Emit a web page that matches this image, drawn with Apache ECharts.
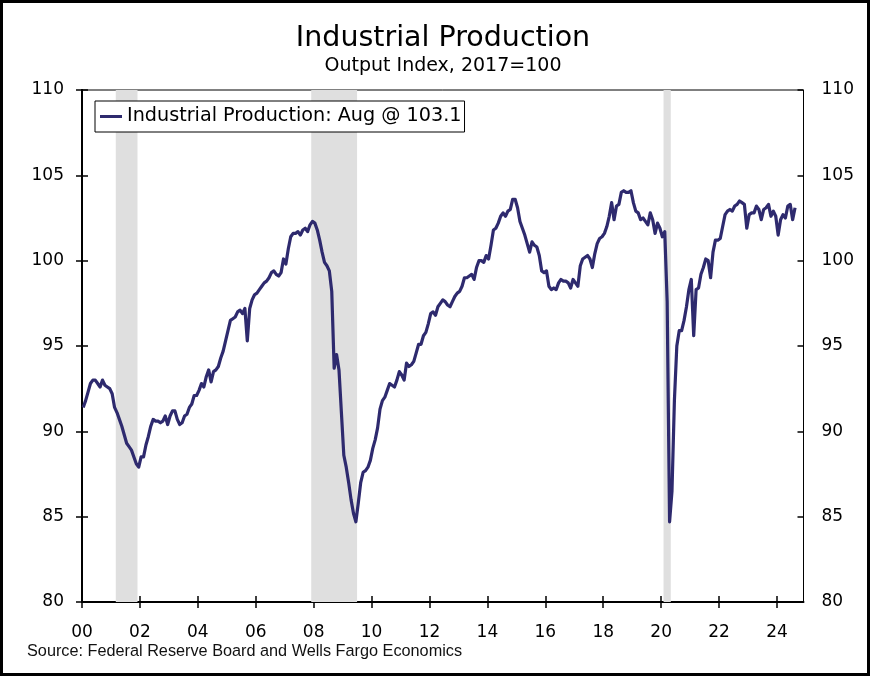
<!DOCTYPE html>
<html>
<head>
<meta charset="utf-8">
<script src="https://cdn.jsdelivr.net/npm/echarts@6/dist/echarts.min.js"></script>
<style>
html,body{margin:0;padding:0;background:#fff;}
#chart{width:870px;height:676px;}
</style>
</head>
<body>
<div id="chart"></div>
<script>
// ---- Data (monthly, Jan 2000 - Aug 2024, index 2017=100) ----
const startYear = 2000;
const industrialProduction = [
  91.4, 91.8, 92.3, 92.8, 93.0, 93.0, 92.8, 92.6, 93.0, 92.7, 92.6, 92.5,   // 2000
  92.2, 91.4, 91.1, 90.7, 90.3, 89.8, 89.3, 89.1, 88.9, 88.5, 88.1, 87.9,   // 2001
  88.5, 88.5, 89.2, 89.7, 90.3, 90.7, 90.6, 90.6, 90.5, 90.6, 90.9, 90.4,   // 2002
  90.9, 91.2, 91.2, 90.7, 90.4, 90.5, 90.9, 91.0, 91.4, 91.6, 92.1, 92.1,   // 2003
  92.4, 92.8, 92.6, 93.2, 93.6, 92.9, 93.5, 93.6, 93.8, 94.3, 94.7, 95.3,   // 2004
  95.9, 96.5, 96.6, 96.7, 97.0, 97.1, 96.9, 97.2, 95.3, 97.2, 97.7, 98.0,   // 2005
  98.1, 98.3, 98.5, 98.7, 98.8, 99.0, 99.3, 99.4, 99.2, 99.1, 99.3, 100.1,  // 2006
  99.8, 100.7, 101.4, 101.6, 101.6, 101.7, 101.5, 101.8, 101.9, 101.7, 102.1, 102.3, // 2007
  102.2, 101.8, 101.2, 100.5, 99.9, 99.7, 99.4, 98.2, 93.7, 94.5, 93.6, 91.1, // 2008
  88.6, 87.9, 87.0, 86.0, 85.2, 84.7, 85.8, 87.0, 87.6, 87.7, 87.9, 88.3,   // 2009
  89.0, 89.5, 90.2, 91.3, 91.8, 92.0, 92.4, 92.8, 92.7, 92.6, 93.0, 93.5,   // 2010
  93.3, 93.0, 94.0, 93.8, 93.9, 94.1, 94.6, 95.1, 95.1, 95.6, 95.8, 96.3,   // 2011
  96.9, 97.0, 96.8, 97.3, 97.5, 97.7, 97.6, 97.4, 97.3, 97.6, 97.9, 98.1,   // 2012
  98.2, 98.5, 99.0, 99.0, 99.1, 99.2, 98.9, 99.6, 100.0, 100.0, 99.9, 100.3, // 2013
  100.1, 100.9, 101.8, 101.9, 102.2, 102.6, 102.8, 102.6, 102.9, 103.0, 103.6, 103.6, // 2014
  103.1, 102.3, 101.9, 101.5, 101.0, 100.5, 101.1, 100.9, 100.8, 100.3, 99.4, 99.3, // 2015
  99.4, 98.5, 98.3, 98.4, 98.3, 98.7, 98.9, 98.8, 98.8, 98.7, 98.4, 98.9,   // 2016
  98.7, 98.5, 99.7, 100.1, 100.2, 100.3, 100.1, 99.6, 100.4, 101.0, 101.3, 101.4, // 2017
  101.6, 102.0, 102.6, 103.4, 102.4, 103.2, 103.3, 104.0, 104.1, 104.0, 104.0, 104.1, // 2018
  103.4, 102.9, 102.8, 102.4, 102.5, 102.3, 102.1, 102.8, 102.4, 101.6, 102.2, 101.9, // 2019
  101.4, 101.7, 97.6, 84.7, 86.5, 91.8, 95.0, 95.9, 95.9, 96.5, 97.3, 98.3,  // 2020
  98.9, 95.6, 98.3, 98.4, 99.2, 99.6, 100.1, 100.0, 99.0, 100.5, 101.2, 101.2, // 2021
  101.3, 102.0, 102.7, 102.9, 103.0, 102.9, 103.2, 103.3, 103.5, 103.4, 103.3, 101.9, // 2022
  102.7, 102.8, 102.8, 103.2, 103.0, 102.4, 103.0, 103.1, 103.3, 102.6, 102.9, 102.6, // 2023
  101.5, 102.4, 102.7, 102.5, 103.2, 103.3, 102.4, 103.1                      // 2024 (Jan-Aug)
];
const seriesName = 'Industrial Production: Aug @ 103.1';
const titleText = 'Industrial Production';
const subtitleText = 'Output Index, 2017=100';
const sourceText = 'Source: Federal Reserve Board and Wells Fargo Economics';
const xTickYears = [2000, 2002, 2004, 2006, 2008, 2010, 2012, 2014, 2016, 2018, 2020, 2022, 2024];
const xTickLabels = ['00', '02', '04', '06', '08', '10', '12', '14', '16', '18', '20', '22', '24'];
const yMin = 80, yMax = 110, yStep = 5;
const recessions = [['2001-03', '2001-11'], ['2007-12', '2009-06'], ['2020-02', '2020-04']];
const axisEndMonth = '2024-12';

// ---- Helpers ----
function monthIndex(s) {
  const [y, m] = s.split('-').map(Number);
  return (y - startYear) * 12 + (m - 1);
}
const tickPos = xTickYears.map(y => (y - startYear) * 12);
const lineData = industrialProduction.map((v, i) => [i + 0.5, v]);
const shadeData = recessions.map(r => [{ xAxis: monthIndex(r[0]) }, { xAxis: monthIndex(r[1]) + 1 }]);
const xMax = monthIndex(axisEndMonth);

const FONT = '"DejaVu Sans", Verdana, sans-serif';

const chart = echarts.init(document.getElementById('chart'), null, { renderer: 'canvas' });

const commonX = { type: 'value', min: 0, max: xMax, splitLine: { show: false } };
const commonY = { type: 'value', min: yMin, max: yMax, interval: yStep, splitLine: { show: false } };

chart.setOption({
  animation: false,
  backgroundColor: '#fff',
  legend: {
    data: [seriesName],
    left: 95, top: 101,
    icon: 'rect', itemWidth: 22, itemHeight: 3,
    padding: [6, 3, 6, 5],
    borderColor: '#000', borderWidth: 1, borderRadius: 0,
    backgroundColor: '#fff',
    textStyle: { fontFamily: FONT, fontSize: 19.2, color: '#000' },
    selectedMode: false
  },
  grid: { left: 82, right: 66.5, top: 90, bottom: 74, show: true, borderColor: '#000', borderWidth: 1, backgroundColor: 'transparent' },
  xAxis: [
    Object.assign({}, commonX, {
      position: 'bottom',
      axisLine: { show: true, lineStyle: { color: '#000', width: 2 } },
      axisTick: { show: true, inside: false, length: 6, customValues: tickPos, lineStyle: { color: '#000', width: 1.5 } },
      axisLabel: { show: true, customValues: tickPos, margin: 22, color: '#000', fontFamily: FONT, fontSize: 17,
        formatter: v => { const k = tickPos.indexOf(Math.round(v)); return k >= 0 ? xTickLabels[k] : ''; } }
    }),
    Object.assign({}, commonX, {
      position: 'bottom',
      axisLine: { show: false },
      axisTick: { show: true, inside: true, length: 6, customValues: tickPos, lineStyle: { color: '#000', width: 1.5 } },
      axisLabel: { show: false }
    })
  ],
  yAxis: [
    Object.assign({}, commonY, {
      position: 'left',
      axisLine: { show: true, lineStyle: { color: '#000', width: 2 } },
      axisTick: { show: true, inside: false, length: 6, lineStyle: { color: '#000', width: 1.5 } },
      axisLabel: { show: true, margin: 18, color: '#000', fontFamily: FONT, fontSize: 17 }
    }),
    Object.assign({}, commonY, {
      position: 'right',
      axisLine: { show: true, lineStyle: { color: '#000', width: 2 } },
      axisTick: { show: true, inside: false, length: 6, lineStyle: { color: '#000', width: 1.5 } },
      axisLabel: { show: true, margin: 18, color: '#000', fontFamily: FONT, fontSize: 17 }
    }),
    Object.assign({}, commonY, {
      position: 'left', offset: 0,
      axisLine: { show: false },
      axisTick: { show: true, inside: true, length: 6, lineStyle: { color: '#000', width: 1.5 } },
      axisLabel: { show: false }
    }),
    Object.assign({}, commonY, {
      position: 'right', offset: 0,
      axisLine: { show: false },
      axisTick: { show: true, inside: true, length: 6, lineStyle: { color: '#000', width: 1.5 } },
      axisLabel: { show: false }
    })
  ],
  series: [
    {
      name: 'Recessions', type: 'line', xAxisIndex: 0, yAxisIndex: 0, data: [], z: 1,
      silent: true,
      markArea: { silent: true, itemStyle: { color: '#dfdfdf' }, data: shadeData }
    },
    {
      name: seriesName, type: 'line', xAxisIndex: 0, yAxisIndex: 0, z: 3,
      data: lineData, showSymbol: false, symbol: 'none',
      lineStyle: { color: '#2e2a6e', width: 3.2, join: 'round' },
      itemStyle: { color: '#2e2a6e' }
    }
  ],
  graphic: [
    { type: 'text', x: 443, y: 39, silent: true,
      style: { text: titleText, textAlign: 'center', textVerticalAlign: 'middle',
        font: '28.5px "DejaVu Sans", Verdana, sans-serif', fill: '#000' } },
    { type: 'text', x: 443, y: 66, silent: true,
      style: { text: subtitleText, textAlign: 'center', textVerticalAlign: 'middle',
        font: '19px "DejaVu Sans", Verdana, sans-serif', fill: '#000' } },
    { type: 'text', x: 27, y: 652, silent: true,
      style: { text: sourceText, textAlign: 'left', textVerticalAlign: 'middle',
        font: '16.25px "Liberation Sans", Arial, sans-serif', fill: '#111' } },
    { type: 'rect', z: 100, silent: true,
      shape: { x: 1.5, y: 1.5, width: 867, height: 673 },
      style: { fill: 'none', stroke: '#000', lineWidth: 3 } }
  ]
});
</script>
</body>
</html>
